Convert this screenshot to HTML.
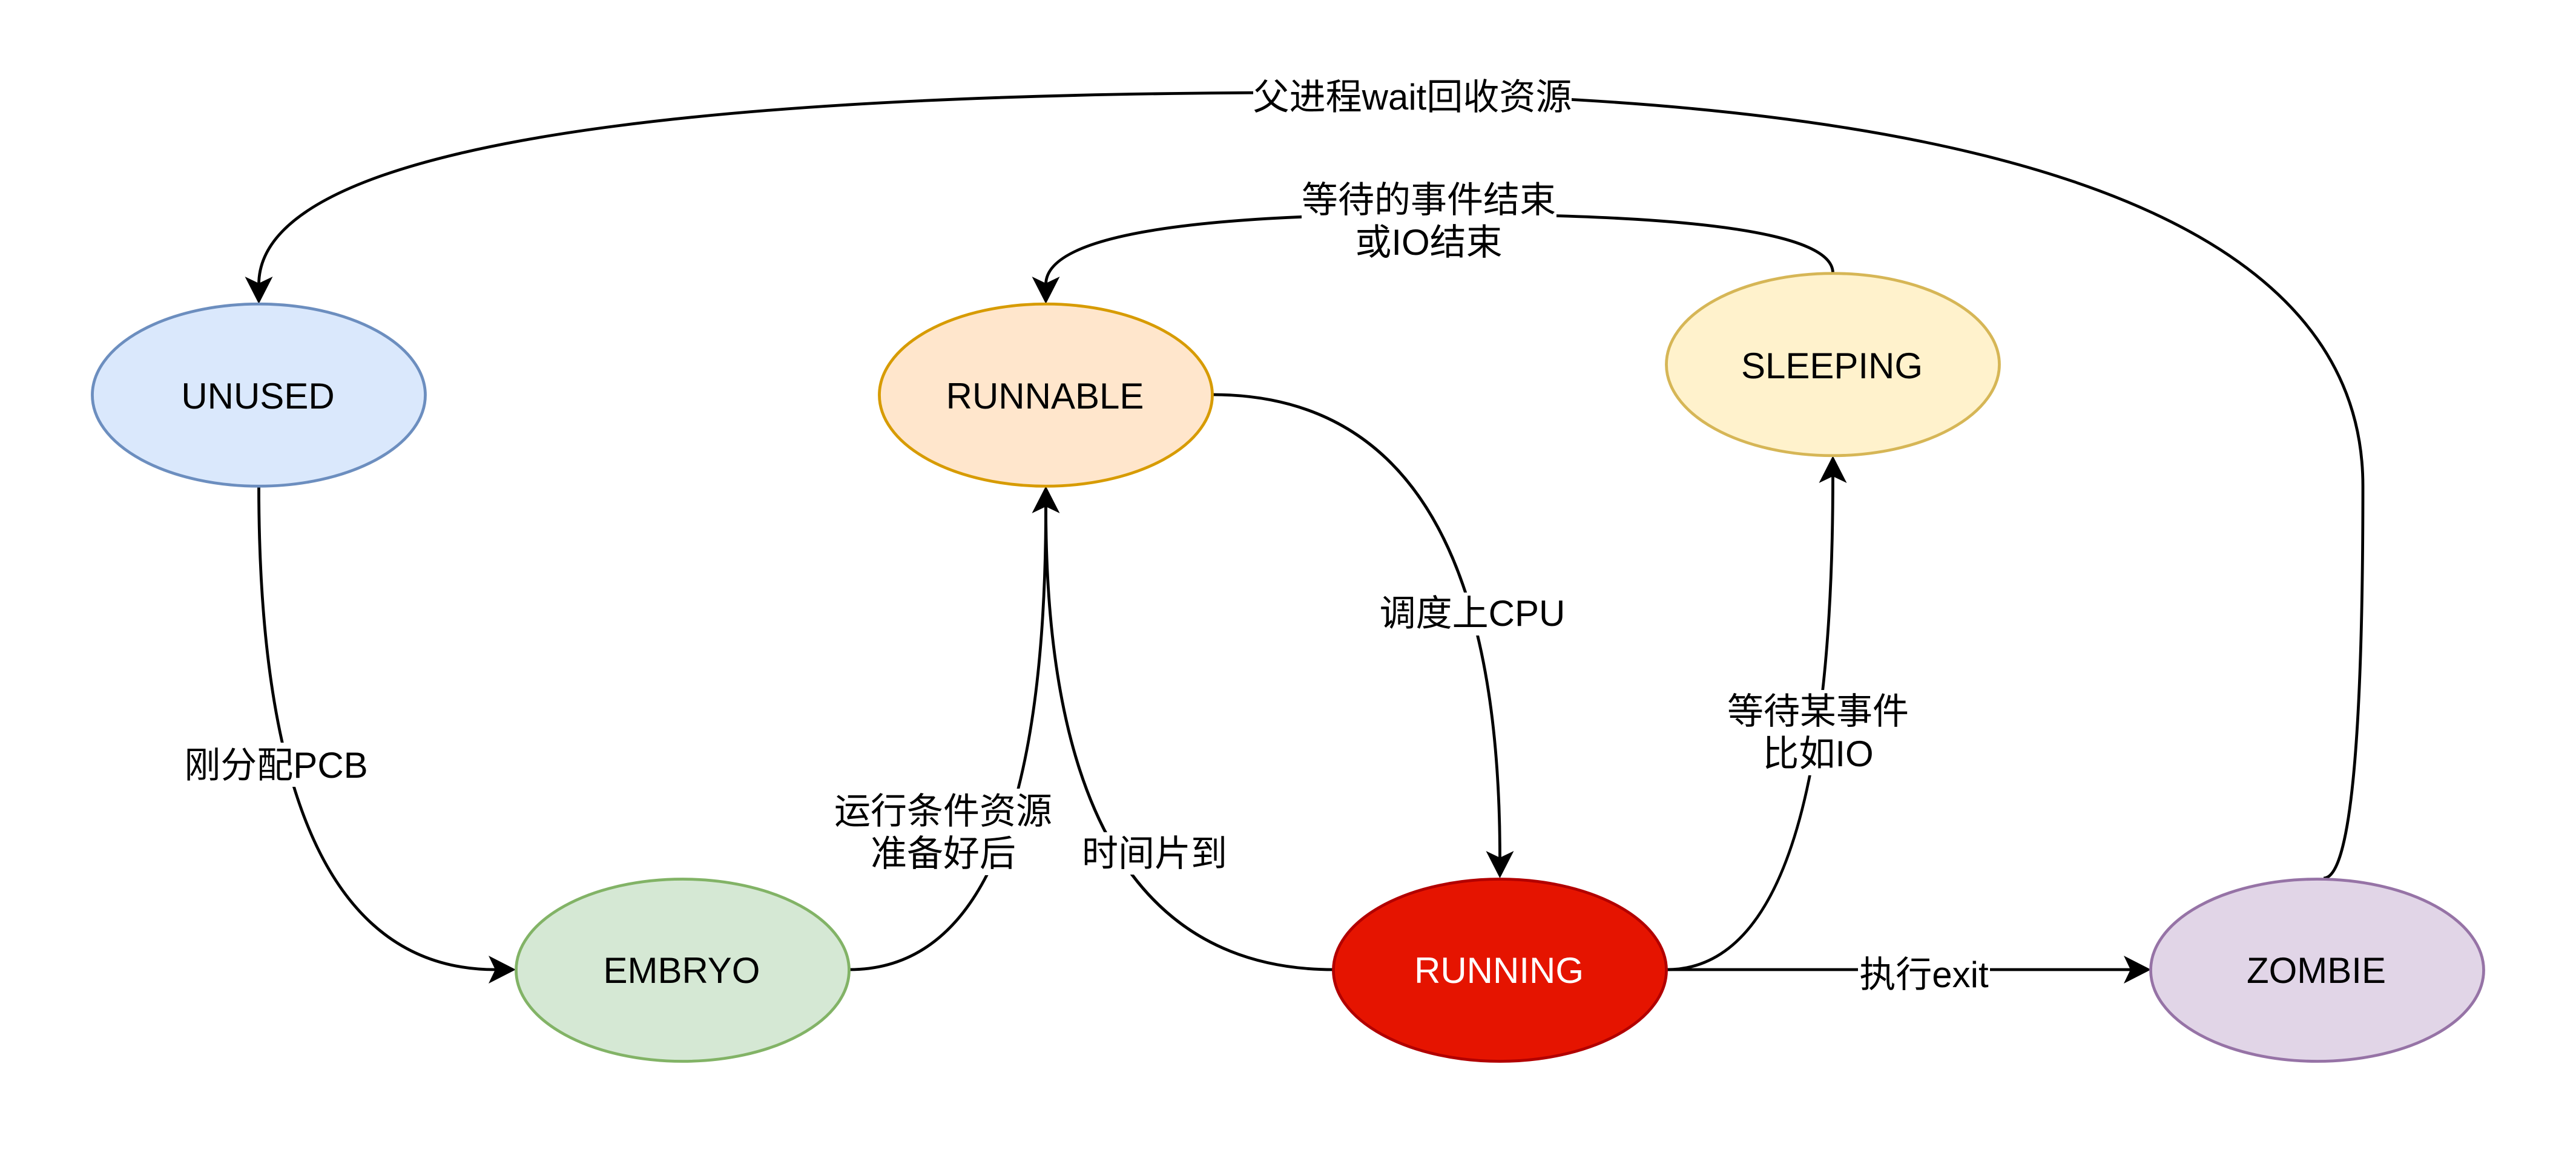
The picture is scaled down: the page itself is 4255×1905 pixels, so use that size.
<!DOCTYPE html>
<html lang="zh">
<head>
<meta charset="utf-8">
<title>Process state diagram</title>
<style>
html,body{margin:0;padding:0;background:#fff;width:4255px;height:1905px;overflow:hidden}
svg{display:block}
text{font-family:"Liberation Sans","WenQuanYi Zen Hei","Noto Sans CJK SC",sans-serif;font-size:60px;fill:#000;text-anchor:middle}
.e{fill:none;stroke:#000;stroke-width:4.8}
.n{stroke-width:4.8}
</style>
</head>
<body>
<svg width="4255" height="1905" viewBox="0 0 4255 1905" xmlns="http://www.w3.org/2000/svg">
<rect width="4255" height="1905" fill="#fff"/>

<!-- edges -->
<path class="e" d="M427.5 803 Q427.5 1602 818 1602"/>
<path class="e" d="M1403 1602 Q1727.5 1602 1727.5 837"/>
<path class="e" d="M2203 1602 Q1727.5 1602 1727.5 837"/>
<path class="e" d="M2003 652 Q2477.5 652 2477.5 1417"/>
<path class="e" d="M2753 1602 Q3027.5 1602 3027.5 787"/>
<path class="e" d="M2753 1602 L3525 1602"/>
<path class="e" d="M3838 1451 Q3903 1451 3903 803 Q3903 153 2165 153 Q427.5 153 427.5 470"/>
<path class="e" d="M3027.5 451 Q3027.5 354 2377 354 Q1727.5 354 1727.5 470"/>

<!-- arrowheads -->
<polygon points="427.5,502 404.5,457 427.5,468 450.5,457" fill="#000"/>
<polygon points="1727.5,502 1704.5,457 1727.5,468 1750.5,457" fill="#000"/>
<polygon points="1727.5,803 1704.5,848 1727.5,837 1750.5,848" fill="#000"/>
<polygon points="2477.5,1451 2454.5,1406 2477.5,1417 2500.5,1406" fill="#000"/>
<polygon points="3027.5,753 3004.5,798 3027.5,787 3050.5,798" fill="#000"/>
<polygon points="852,1602 807,1579 818,1602 807,1625" fill="#000"/>
<polygon points="3553,1602 3508,1579 3519,1602 3508,1625" fill="#000"/>

<!-- nodes -->
<ellipse class="n" cx="427.5" cy="652.75" rx="275" ry="150.5" fill="#dae8fc" stroke="#6c8ebf"/>
<ellipse class="n" cx="1727.5" cy="652.75" rx="275" ry="150.5" fill="#ffe6cc" stroke="#d79b00"/>
<ellipse class="n" cx="3027.5" cy="602.25" rx="275" ry="150.5" fill="#fff2cc" stroke="#d6b656"/>
<ellipse class="n" cx="1127.5" cy="1603" rx="275" ry="150.5" fill="#d5e8d4" stroke="#82b366"/>
<ellipse class="n" cx="2477.5" cy="1603" rx="275" ry="150.5" fill="#e51400" stroke="#b20000"/>
<ellipse class="n" cx="3827.5" cy="1603" rx="275" ry="150.5" fill="#e1d5e7" stroke="#9673a6"/>

<text x="426" y="675">UNUSED</text>
<text x="1726" y="675">RUNNABLE</text>
<text x="3026" y="625">SLEEPING</text>
<text x="1126" y="1624">EMBRYO</text>
<text x="2476" y="1624" style="fill:#fff">RUNNING</text>
<text x="3826" y="1624">ZOMBIE</text>

<!-- label backgrounds -->
<g fill="#fff">
<rect x="2070" y="122" width="526" height="72"/>
<rect x="2150" y="294" width="421" height="140"/>
<rect x="305" y="1227" width="302" height="73"/>
<rect x="1376" y="1303" width="363" height="143"/>
<rect x="1790" y="1375" width="235" height="70"/>
<rect x="2281" y="979" width="303" height="71"/>
<rect x="2852" y="1140" width="301" height="141"/>
<rect x="3069" y="1572" width="218" height="72"/>
</g>

<!-- edge labels -->
<text x="2333" y="181">父进程wait回收资源</text>
<text x="2360" y="351">等待的事件结束</text>
<text x="2360" y="421">或IO结束</text>
<text x="456" y="1285">刚分配PCB</text>
<text x="1558" y="1361">运行条件资源</text>
<text x="1558" y="1431">准备好后</text>
<text x="1907" y="1431">时间片到</text>
<text x="2432" y="1034">调度上CPU</text>
<text x="3003" y="1196">等待某事件</text>
<text x="3003" y="1266">比如IO</text>
<text x="3178" y="1631">执行exit</text>
</svg>
</body>
</html>
